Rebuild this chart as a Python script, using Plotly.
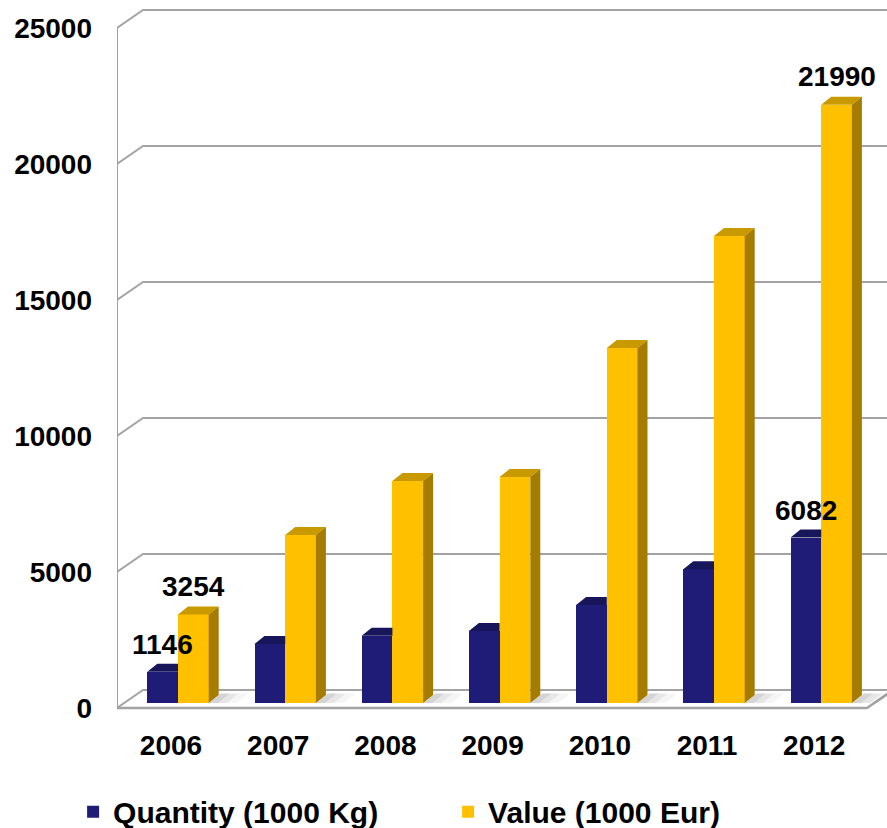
import plotly.graph_objects as go

# ---------------- data ----------------
years = ["2006", "2007", "2008", "2009", "2010", "2011", "2012"]
quantity = [1146, 2170, 2470, 2650, 3600, 4920, 6082]      # Quantity (1000 Kg)
value = [3254, 6180, 8160, 8310, 13050, 17170, 21990]      # Value (1000 Eur)
y_ticks = [0, 5000, 10000, 15000, 20000, 25000]
y_tick_labels = ["0", "5000", "10000", "15000", "20000", "25000"]
labelled_years = ["2006", "2012"]
series_names = ["Quantity (1000 Kg)", "Value (1000 Eur)"]

# ---------------- geometry (pixels) ----------------
W, H = 887, 828
PL, PR, PT, PB = 117, 887, 0, 712          # plot area
STEP = 107.2                               # px per category
PPU = 136.0 / 5000.0                       # px per value unit
FX0, FY0 = 171, 708                        # front plane: category 0 centre / value 0
BX0, BY0 = 178, 703                        # bar plane: category boundary / value 0
WALL_DX, WALL_DY = 26, 18                  # depth of chart box
BAR_DX, BAR_DY = 10, 8                     # depth of a bar
BAR_W = 30.7 / STEP
FLOOR_RIGHT_PX = 867

BLUE = "#1F1C78"
BLUE_TOP = "#17165A"
GOLD = "#FFC000"
GOLD_TOP = "#C99A00"
GOLD_SIDE = "#A67C00"
GRID = "#A3A3A3"
FONT = "Liberation Sans, Arial, sans-serif"

xr = [(PL - FX0) / STEP, (PR - FX0) / STEP]
yr = [(FY0 - PB) / PPU, (FY0 - PT) / PPU]
x2r = [(PL - BX0) / STEP, (PR - BX0) / STEP]
y2r = [(BY0 - PB) / PPU, (BY0 - PT) / PPU]

wdx, wdy = WALL_DX / STEP, WALL_DY / PPU
bdx, bdy = BAR_DX / STEP, BAR_DY / PPU
XL = (PL - FX0) / STEP
XR = (FLOOR_RIGHT_PX - FX0) / STEP
XEND = xr[1] + 2

fig = go.Figure()

# ---------------- walls / gridlines (front-plane axes) ----------------
gx, gy = [], []
for t in y_ticks:
    gx += [XL, XL + wdx, XEND, None]
    gy += [t, t + wdy, t + wdy, None]
gx += [XL, XL, None]
gy += [0, y_ticks[-1], None]
fig.add_trace(go.Scatter(x=gx, y=gy, mode="lines", line=dict(color=GRID, width=2),
                         hoverinfo="skip", showlegend=False))
fig.add_trace(go.Scatter(x=[XL, XR, XR + wdx], y=[0, 0, wdy], mode="lines",
                         line=dict(color=GRID, width=2.5), hoverinfo="skip", showlegend=False))

# ---------------- bars (bar-plane axes) ----------------
idx = list(range(len(years)))
fig.add_trace(go.Bar(x=idx, y=quantity, width=BAR_W, offset=-BAR_W, name=series_names[0],
                     marker=dict(color=BLUE, line=dict(width=0)), xaxis="x2", yaxis="y2"))
fig.add_trace(go.Bar(x=idx, y=value, width=BAR_W, offset=0, name=series_names[1],
                     marker=dict(color=GOLD, line=dict(width=0)), xaxis="x2", yaxis="y2"))

# floor shadows
for length, alpha in [(28, 0.04), (18, 0.06), (9, 0.08)]:
    sx, sy = [], []
    L = length / STEP
    for i in idx:
        x0 = i + BAR_W
        sx += [x0, x0 + L, x0 + L + bdx * 1.2, x0 + bdx * 1.2, x0, None]
        sy += [0, 0, bdy * 1.2, bdy * 1.2, 0, None]
    fig.add_trace(go.Scatter(x=sx, y=sy, mode="lines", fill="toself", line=dict(width=0),
                             fillcolor=f"rgba(0,0,0,{alpha})", hoverinfo="skip",
                             showlegend=False, xaxis="x2", yaxis="y2"))

# blue tops (clipped by gold front)
tx, ty = [], []
for i, v in zip(idx, quantity):
    tx += [i - BAR_W, i, i, i - BAR_W + bdx, i - BAR_W, None]
    ty += [v, v, v + bdy, v + bdy, v, None]
fig.add_trace(go.Scatter(x=tx, y=ty, mode="lines", fill="toself", line=dict(width=0),
                         fillcolor=BLUE_TOP, hoverinfo="skip", showlegend=False,
                         xaxis="x2", yaxis="y2"))

# gold tops and sides
tx, ty, sx, sy = [], [], [], []
for i, v in zip(idx, value):
    tx += [i, i + BAR_W, i + BAR_W + bdx, i + bdx, i, None]
    ty += [v, v, v + bdy, v + bdy, v, None]
    sx += [i + BAR_W, i + BAR_W, i + BAR_W + bdx, i + BAR_W + bdx, i + BAR_W, None]
    sy += [0, v, v + bdy, bdy, 0, None]
fig.add_trace(go.Scatter(x=tx, y=ty, mode="lines", fill="toself", line=dict(width=0),
                         fillcolor=GOLD_TOP, hoverinfo="skip", showlegend=False,
                         xaxis="x2", yaxis="y2"))
fig.add_trace(go.Scatter(x=sx, y=sy, mode="lines", fill="toself", line=dict(width=0),
                         fillcolor=GOLD_SIDE, hoverinfo="skip", showlegend=False,
                         xaxis="x2", yaxis="y2"))

# data labels
for i, yv in enumerate(years):
    if yv in labelled_years:
        fig.add_annotation(x=i - BAR_W / 2, y=quantity[i], xref="x2", yref="y2",
                           text=str(quantity[i]), showarrow=False, yanchor="middle",
                           yshift=27, font=dict(family=FONT, size=28, color="black", weight="bold"))
        fig.add_annotation(x=i + BAR_W / 2, y=value[i], xref="x2", yref="y2",
                           text=str(value[i]), showarrow=False, yanchor="middle",
                           yshift=28, font=dict(family=FONT, size=28, color="black", weight="bold"))

tickfont = dict(family=FONT, size=28, color="black", weight="bold")
fig.update_layout(
    width=W, height=H, autosize=False,
    margin=dict(l=PL, r=W - PR, t=PT, b=H - PB, pad=0, autoexpand=False),
    paper_bgcolor="white", plot_bgcolor="rgba(0,0,0,0)",
    barmode="overlay", bargap=0,
    xaxis=dict(range=xr, tickvals=idx, ticktext=years, showgrid=False, zeroline=False,
               showline=False, ticks="", tickfont=tickfont, ticklabelstandoff=14,
               fixedrange=True, automargin=False),
    yaxis=dict(range=yr, tickvals=y_ticks, ticktext=y_tick_labels, showgrid=False,
               zeroline=False, showline=False, ticks="", tickfont=tickfont,
               ticklabelstandoff=24, fixedrange=True, automargin=False),
    xaxis2=dict(range=x2r, overlaying="x", visible=False, fixedrange=True),
    yaxis2=dict(range=y2r, overlaying="y", visible=False, fixedrange=True),
    legend=dict(orientation="h", x=-0.057, xanchor="left", y=-0.14, yanchor="middle",
                font=dict(family=FONT, size=30, color="black", weight="bold"),
                entrywidth=330, entrywidthmode="pixels", bgcolor="rgba(0,0,0,0)"),
    showlegend=True,
)

fig.write_html("out.html")
